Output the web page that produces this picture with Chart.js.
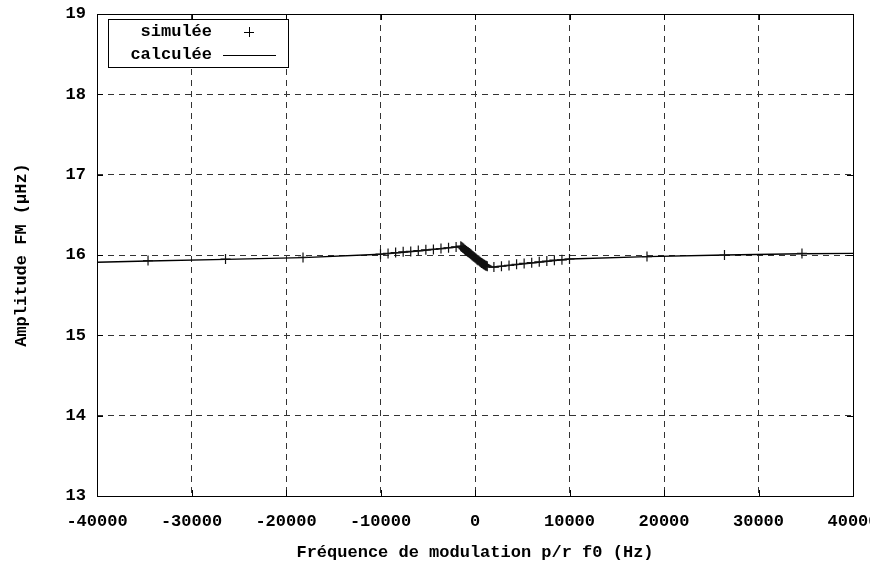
<!DOCTYPE html>
<html>
<head>
<meta charset="utf-8">
<script src="https://cdn.jsdelivr.net/npm/chart.js@4"></script>
<style>
  html, body { margin: 0; padding: 0; background: #fff; }
  #wrap { width: 870px; height: 570px; }
</style>
</head>
<body>
<div id="wrap"><canvas id="fmChart" width="870" height="570"></canvas></div>
<script>
// simulated points (Hz, µHz)
const simFreq = [-34600, -26400, -18200,
  -10000, -9200, -8400, -7600, -6800, -6000, -5200, -4400, -3600, -2800, -2000,
  -1500, -1400, -1300, -1200, -1100, -1000, -900, -800, -700, -600,
  -500, -400, -300, -200, -100, 0, 100, 200, 300, 400,
  500, 600, 700, 800, 900, 1000, 1100, 1200, 1300,
  2000, 2800, 3600, 4400, 5200, 6000, 6800, 7600, 8400, 9200, 10000,
  18200, 26400, 34600];
const simAmp = [15.93, 15.95, 15.97,
  16.01, 16.02, 16.03, 16.04, 16.045, 16.055, 16.065, 16.07, 16.08, 16.09, 16.10,
  16.11, 16.10, 16.09, 16.08, 16.07, 16.06, 16.05, 16.04, 16.035, 16.025,
  16.015, 16.005, 15.995, 15.985, 15.975, 15.965, 15.955, 15.945, 15.935, 15.93,
  15.92, 15.91, 15.90, 15.895, 15.885, 15.88, 15.87, 15.865, 15.86,
  15.85, 15.86, 15.87, 15.885, 15.895, 15.905, 15.915, 15.925, 15.935, 15.94, 15.95,
  15.98, 16.00, 16.02];

// calculated curve
const calcFreq = [-40000, -34600, -26400, -18200, -10000, -6000, -2000, -1500, 1400, 2000, 6000, 10000, 18200, 26400, 34600, 40000];
const calcAmp = [15.91, 15.925, 15.945, 15.967, 16.01, 16.05, 16.10, 16.11, 15.85, 15.85, 15.90, 15.95, 15.98, 16.00, 16.015, 16.02];

const xTicks = [-40000, -30000, -20000, -10000, 0, 10000, 20000, 30000, 40000];
const yTicks = [13, 14, 15, 16, 17, 18, 19];

const FONT = { family: "'Liberation Mono', 'Courier New', monospace", size: 17, weight: 'bold' };

// gnuplot-like frame, inward ticks and the boxed legend
const framePlugin = {
  id: 'frame',
  afterDraw(chart) {
    const { ctx, chartArea: a, scales } = chart;
    ctx.save();
    ctx.strokeStyle = '#000';
    ctx.lineWidth = 1;
    ctx.setLineDash([]);
    ctx.beginPath();
    scales.x.ticks.forEach(t => {
      const px = Math.round(scales.x.getPixelForValue(t.value)) + 0.5;
      ctx.moveTo(px, a.bottom); ctx.lineTo(px, a.bottom - 6);
      ctx.moveTo(px, a.top); ctx.lineTo(px, a.top + 6);
    });
    scales.y.ticks.forEach(t => {
      const py = Math.round(scales.y.getPixelForValue(t.value)) + 0.5;
      ctx.moveTo(a.left, py); ctx.lineTo(a.left + 6, py);
      ctx.moveTo(a.right, py); ctx.lineTo(a.right - 6, py);
    });
    ctx.stroke();
    ctx.strokeRect(Math.round(a.left) + 0.5, Math.round(a.top) + 0.5, Math.round(a.right - a.left), Math.round(a.bottom - a.top));

    // legend box
    const bx = a.left + 11, by = a.top + 5, bw = 180, bh = 48;
    ctx.fillStyle = '#fff';
    ctx.fillRect(bx, by, bw, bh);
    ctx.strokeRect(bx + 0.5, by + 0.5, bw, bh);
    ctx.fillStyle = '#000';
    ctx.font = `${FONT.weight} ${FONT.size}px ${FONT.family}`;
    ctx.textAlign = 'right';
    ctx.textBaseline = 'middle';
    const ds = chart.data.datasets;
    ctx.fillText(ds[0].label, bx + 104, by + 13);
    ctx.fillText(ds[1].label, bx + 104, by + 36);
    // marker sample
    const mx = bx + 141, my = by + 13;
    ctx.beginPath();
    ctx.moveTo(mx - 5, my + 0.5); ctx.lineTo(mx + 5, my + 0.5);
    ctx.moveTo(mx + 0.5, my - 5); ctx.lineTo(mx + 0.5, my + 5);
    ctx.stroke();
    // line sample
    ctx.beginPath();
    ctx.moveTo(bx + 115, by + 36.5); ctx.lineTo(bx + 168, by + 36.5);
    ctx.stroke();
    ctx.restore();
  }
};

new Chart(document.getElementById('fmChart'), {
  type: 'scatter',
  data: {
    datasets: [{
      label: 'simulée',
      data: simFreq.map((f, i) => ({ x: f, y: simAmp[i] })),
      pointStyle: 'cross',
      pointRadius: 5,
      pointBorderWidth: 1.2,
      borderColor: '#111',
      backgroundColor: '#111',
      showLine: false,
      order: 1
    }, {
      label: 'calculée',
      data: calcFreq.map((f, i) => ({ x: f, y: calcAmp[i] })),
      showLine: true,
      pointRadius: 0,
      borderColor: '#000',
      borderWidth: 1.4,
      tension: 0,
      order: 2
    }]
  },
  options: {
    responsive: false,
    animation: false,
    layout: { padding: { left: 0, right: 17, top: 14, bottom: 0 } },
    plugins: {
      legend: { display: false },
      tooltip: { enabled: false }
    },
    scales: {
      x: {
        type: 'linear',
        min: -40000,
        max: 40000,
        afterBuildTicks: s => { s.ticks = xTicks.map(v => ({ value: v })); },
        afterFit: s => { s.height = 74; s.paddingLeft = 0; s.paddingRight = 0; },
        grid: { color: '#333', lineWidth: 1, drawTicks: false },
        border: { display: false, dash: [6, 5] },
        ticks: { color: '#000', font: FONT, padding: 16, maxRotation: 0, autoSkip: false, callback: v => String(v) },
        title: { display: true, text: 'Fréquence de modulation p/r f0 (Hz)', color: '#000', font: FONT, padding: { top: 0, bottom: 7 } }
      },
      y: {
        type: 'linear',
        min: 13,
        max: 19,
        afterBuildTicks: s => { s.ticks = yTicks.map(v => ({ value: v })); },
        afterFit: s => { s.width = 97; s.paddingTop = 0; s.paddingBottom = 0; },
        grid: { color: '#333', lineWidth: 1, drawTicks: false },
        border: { display: false, dash: [6, 5] },
        ticks: { color: '#000', font: FONT, padding: 11, callback: v => String(v) },
        title: { display: true, text: 'Amplitude FM (µHz)', color: '#000', font: FONT, padding: { top: 12, bottom: 0 } }
      }
    }
  },
  plugins: [framePlugin]
});
</script>
</body>
</html>
